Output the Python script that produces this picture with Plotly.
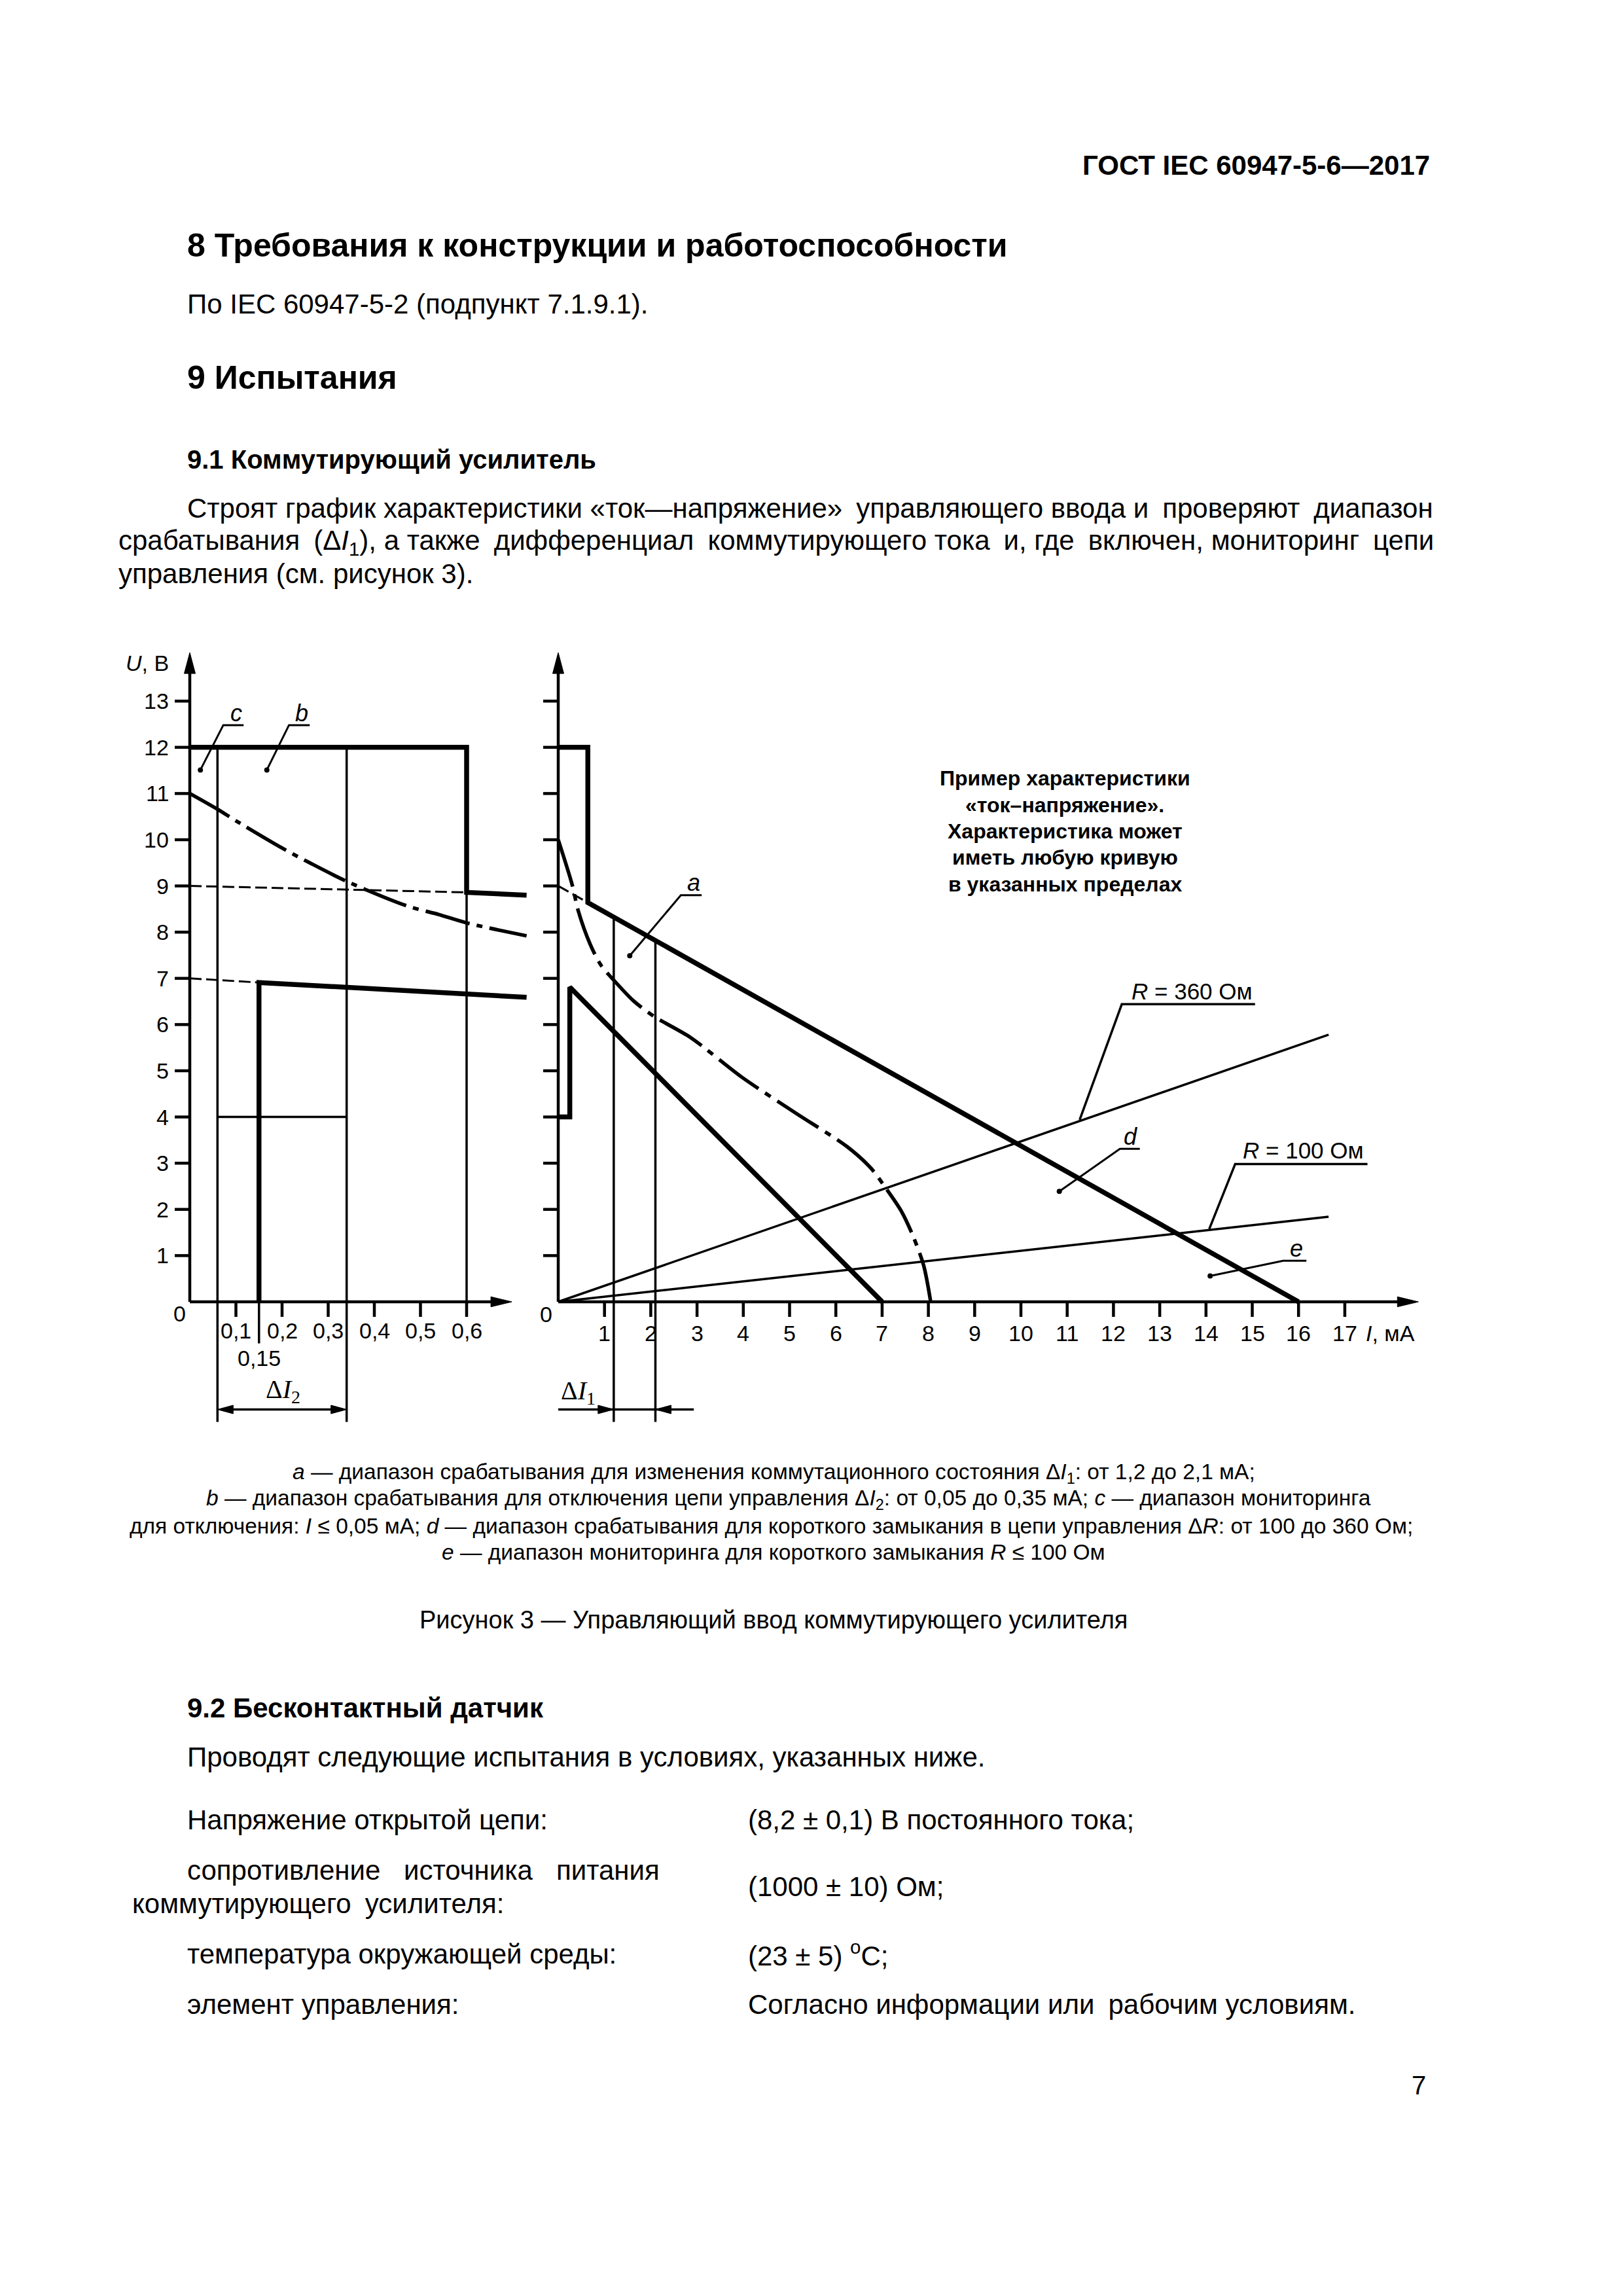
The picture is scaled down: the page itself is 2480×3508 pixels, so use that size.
import numpy as np
import plotly.graph_objects as go

# ======================= chart data =======================
U_TICKS = list(range(1, 14))
LEFT_I_TICKS = [0.1, 0.2, 0.3, 0.4, 0.5, 0.6]
LEFT_I_TICK_LABELS = ["0,1", "0,2", "0,3", "0,4", "0,5", "0,6"]
RIGHT_I_TICKS = list(range(1, 18))
RIGHT_I_TICK_LABELS = [str(v) for v in RIGHT_I_TICKS]

# left panel: I in mA, U in V
left_upper_I = [0.0, 0.60, 0.60, 0.73]
left_upper_U = [12.0, 12.0, 8.86, 8.80]
left_upper_ext_I = [0.0, 0.60]
left_upper_ext_U = [9.0, 8.86]
left_lower_ext_I = [0.0, 0.15]
left_lower_ext_U = [7.0, 6.91]
left_lower_I = [0.15, 0.15, 0.73]
left_lower_U = [0.0, 6.91, 6.59]
left_curve_I = [0.0, 0.06, 0.10, 0.20, 0.26, 0.34, 0.47, 0.54, 0.60, 0.73]
left_curve_U = [11.0, 10.66, 10.41, 9.82, 9.50, 9.10, 8.57, 8.38, 8.20, 7.92]
c_limit_I = 0.06
b_limit_I = 0.34
b_step_I = 0.60
b_level_U = 4.0

# right panel
right_upper_I = [0.0, 0.64, 0.64, 16.0]
right_upper_U = [12.0, 12.0, 8.64, 0.0]
right_upper_ext_I = [0.0, 0.64]
right_upper_ext_U = [9.0, 8.64]
right_lower_I = [0.0, 0.25, 0.25, 7.0]
right_lower_U = [4.0, 4.0, 6.81, 0.0]
right_curve_I = [0.0, 0.30, 0.43, 0.69, 0.92, 1.21, 1.63, 2.08, 2.86, 3.97,
                 5.14, 6.24, 6.76, 7.08, 7.41, 7.67, 7.90, 8.05]
right_curve_U = [10.0, 9.03, 8.47, 7.74, 7.29, 6.95, 6.51, 6.17, 5.72, 4.86,
                 4.08, 3.36, 2.89, 2.46, 1.97, 1.42, 0.78, 0.0]
r360_I = [0.0, 16.65]
r360_U = [0.0, 5.78]
r100_I = [0.0, 16.65]
r100_U = [0.0, 1.84]
dI1_bounds = [1.2, 2.1]

# ======================= page geometry (pixels) =======================
W, H = 2480, 3508
X0L, SXL = 290.0, 705.0     # left panel: px of I=0, px per mA
X0R, SXR = 853.0, 70.7      # right panel
Y0, SY = 1989.0, 70.6       # px of U=0, px per V
LX_RANGE = [-0.30, 0.82]
RX_RANGE = [-1.60, 18.80]
Y_RANGE = [-3.40, 14.40]

FONT = "Liberation Sans"
SERIF = "Liberation Serif"
BLACK = "black"
EN = "\u2002"

THIN, AXIS_W, THICK, DD = 3.5, 4.5, 7.5, 5.5

fig = go.Figure()


def ax_of(panel):
    return ("x", "y") if panel == "L" else ("x2", "y2")


def sx_of(panel):
    return SXL if panel == "L" else SXR


def add_line(xs, ys, panel, width, dash="solid", shape="linear"):
    xa, ya = ax_of(panel)
    fig.add_trace(go.Scatter(x=xs, y=ys, mode="lines", xaxis=xa, yaxis=ya,
                             line=dict(color=BLACK, width=width, dash=dash, shape=shape,
                                       smoothing=0.8),
                             hoverinfo="skip", showlegend=False))


def add_poly(pts, panel):
    xa, ya = ax_of(panel)
    xs = [p[0] for p in pts] + [pts[0][0]]
    ys = [p[1] for p in pts] + [pts[0][1]]
    fig.add_trace(go.Scatter(x=xs, y=ys, mode="lines", fill="toself", fillcolor=BLACK,
                             line=dict(color=BLACK, width=1), xaxis=xa, yaxis=ya,
                             hoverinfo="skip", showlegend=False))


def arrow_head(tx, ty, direction, panel, length_px, half_px):
    sx = sx_of(panel)
    L, hw = length_px, half_px
    if direction == "up":
        pts = [(tx, ty), (tx - hw / sx, ty - L / SY), (tx + hw / sx, ty - L / SY)]
    elif direction == "right":
        pts = [(tx, ty), (tx - L / sx, ty + hw / SY), (tx - L / sx, ty - hw / SY)]
    else:  # left
        pts = [(tx, ty), (tx + L / sx, ty + hw / SY), (tx + L / sx, ty - hw / SY)]
    add_poly(pts, panel)


def add_dot(x, y, panel):
    xa, ya = ax_of(panel)
    fig.add_trace(go.Scatter(x=[x], y=[y], mode="markers", xaxis=xa, yaxis=ya,
                             marker=dict(color=BLACK, size=8), cliponaxis=False,
                             hoverinfo="skip", showlegend=False))


annotations = []


def dtext(text, x, y, panel, size=34, xanchor="center", yanchor="middle", family=FONT,
          style="normal", weight="normal"):
    xa, ya = ax_of(panel)
    annotations.append(dict(text=text, x=x, y=y, xref=xa, yref=ya, showarrow=False,
                            xanchor=xanchor, yanchor=yanchor,
                            font=dict(family=family, size=size, color=BLACK,
                                      style=style, weight=weight)))


def ptext(text, xpx, ypx, size, xanchor="left", family=FONT, weight="normal"):
    annotations.append(dict(text=text, x=xpx / W, y=1 - ypx / H, xref="paper", yref="paper",
                            showarrow=False, xanchor=xanchor, yanchor="middle",
                            font=dict(family=family, size=size, color=BLACK, weight=weight)))


def segments(pairs):
    xs, ys = [], []
    for (x1, y1, x2, y2) in pairs:
        xs += [x1, x2, None]
        ys += [y1, y2, None]
    return xs, ys


# ======================= axes =======================
U_TIP = 14.05
ARROW_L, ARROW_HW = 32, 8.5
for panel, x_tip in (("L", 0.698), ("R", 18.59)):
    sx = sx_of(panel)
    add_line([0, 0], [0, U_TIP - 10 / SY], panel, AXIS_W)
    add_line([0, x_tip - 10 / sx], [0, 0], panel, AXIS_W)
    arrow_head(0, U_TIP, "up", panel, ARROW_L, ARROW_HW)
    arrow_head(x_tip, 0, "right", panel, ARROW_L, 7.7)
    tick_len_x = 23 / sx
    xs, ys = segments([(-tick_len_x, u, 0, u) for u in U_TICKS])
    add_line(xs, ys, panel, AXIS_W)

tick_len_y = 23 / SY
xs, ys = segments([(i, 0, i, -tick_len_y) for i in LEFT_I_TICKS])
add_line(xs, ys, "L", AXIS_W)
xs, ys = segments([(i, 0, i, -tick_len_y) for i in RIGHT_I_TICKS])
add_line(xs, ys, "R", AXIS_W)

for u in U_TICKS:
    dtext(str(u), -30 / SXL, u, "L", xanchor="right")
dtext("<i>U</i>, В", -30 / SXL, 13.83, "L", xanchor="right")
dtext("0", -0.022, -0.25, "L")
dtext("0", -0.26, -0.27, "R")
for i, lab in zip(LEFT_I_TICKS, LEFT_I_TICK_LABELS):
    dtext(lab, i, -0.63, "L")
for i, lab in zip(RIGHT_I_TICKS, RIGHT_I_TICK_LABELS):
    dtext(lab, i, -0.68, "R")
dtext("<i>I</i>, мА", 17.42, -0.68, "R", xanchor="left")

# ======================= left panel =======================
V_BOTTOM = -2.6
xs, ys = segments([(c_limit_I, 12, c_limit_I, V_BOTTOM),
                   (b_limit_I, 12, b_limit_I, V_BOTTOM),
                   (b_step_I, left_upper_U[2], b_step_I, 0),
                   (c_limit_I, b_level_U, b_limit_I, b_level_U),
                   (left_lower_I[0], 0, left_lower_I[0], -0.9)])
add_line(xs, ys, "L", THIN)
add_line(left_upper_ext_I, left_upper_ext_U, "L", THIN - 0.5, dash="18px,7px")
add_line(left_lower_ext_I, left_lower_ext_U, "L", THIN - 0.5, dash="18px,7px")
add_line(left_curve_I, left_curve_U, "L", DD, dash="70px,11px,9px,11px", shape="spline")
add_line(left_upper_I, left_upper_U, "L", THICK)
add_line(left_lower_I, left_lower_U, "L", THICK)
dtext("0,15", left_lower_I[0], -1.22, "L")

V_DIM = -2.33
add_line([c_limit_I + 20 / SXL, b_limit_I - 20 / SXL], [V_DIM, V_DIM], "L", THIN)
arrow_head(c_limit_I, V_DIM, "left", "L", 24, 6.5)
arrow_head(b_limit_I, V_DIM, "right", "L", 24, 6.5)
dtext("Δ<i>I</i><sub>2</sub>", 0.2025, -1.93, "L", size=40, family=SERIF)

for pts, lab, lab_xy in (
        ([(0.023, 11.51), (0.0726, 12.48), (0.1167, 12.48)], "c", (0.10, 12.74)),
        ([(0.167, 11.51), (0.215, 12.48), (0.260, 12.48)], "b", (0.242, 12.74))):
    add_line([p[0] for p in pts], [p[1] for p in pts], "L", THIN - 0.5)
    add_dot(pts[0][0], pts[0][1], "L")
    dtext(lab, lab_xy[0], lab_xy[1], "L", size=36, style="italic")

# ======================= right panel =======================
add_line(r360_I, r360_U, "R", THIN)
add_line(r100_I, r100_U, "R", THIN)
tops = [float(np.interp(i, right_upper_I[2:], right_upper_U[2:])) for i in dI1_bounds]
xs, ys = segments([(i, t, i, V_BOTTOM) for i, t in zip(dI1_bounds, tops)])
add_line(xs, ys, "R", THIN)
add_line(right_upper_ext_I, right_upper_ext_U, "R", THIN - 0.5, dash="18px,7px")
add_line(right_curve_I, right_curve_U, "R", DD, dash="75px,12px,10px,12px", shape="spline")
add_line(right_upper_I, right_upper_U, "R", THICK)
add_line(right_lower_I, right_lower_U, "R", THICK)

add_line([0, 2.93], [V_DIM, V_DIM], "R", THIN)
arrow_head(dI1_bounds[0], V_DIM, "right", "R", 24, 6.5)
arrow_head(dI1_bounds[1], V_DIM, "left", "R", 24, 6.5)
dtext("Δ<i>I</i><sub>1</sub>", 0.43, -1.95, "R", size=40, family=SERIF)

for pts, lab, lab_xy in (
        ([(1.546, 7.49), (2.65, 8.80), (3.10, 8.80)], "a", (2.93, 9.07)),
        ([(10.83, 2.39), (12.14, 3.31), (12.57, 3.31)], "d", (12.37, 3.58)),
        ([(14.09, 0.56), (15.67, 0.89), (16.17, 0.89)], "e", (15.96, 1.16))):
    add_line([p[0] for p in pts], [p[1] for p in pts], "R", THIN - 0.5)
    add_dot(pts[0][0], pts[0][1], "R")
    dtext(lab, lab_xy[0], lab_xy[1], "R", size=36, style="italic")

for pts, lab, lab_xy in (
        ([(11.27, 3.94), (12.18, 6.44), (15.06, 6.44)], "<i>R</i> = 360 Ом", (12.36, 6.72)),
        ([(14.07, 1.575), (14.63, 2.98), (17.49, 2.98)], "<i>R</i> = 100 Ом", (14.77, 3.28))):
    add_line([p[0] for p in pts], [p[1] for p in pts], "R", THIN)
    dtext(lab, lab_xy[0], lab_xy[1], "R", size=35, xanchor="left")

note_lines = ["Пример характеристики", "«ток–напряжение».", "Характеристика может",
              "иметь любую кривую", "в указанных пределах"]
for k, t in enumerate(note_lines):
    ptext(t, 1627, 1189 + 40.5 * k, 32, xanchor="center", weight="bold")

# ======================= page text =======================
ptext("ГОСТ IEC 60947-5-6—2017", 2187, 252, 42, xanchor="right", weight="bold")
ptext("8 Требования к конструкции и работоспособности", 284, 375, 50, weight="bold")
ptext("По IEC 60947-5-2 (подпункт 7.1.9.1).", 284, 465, 42)
ptext("9 Испытания", 284, 577, 50, weight="bold")
ptext("9.1 Коммутирующий усилитель", 284, 702, 40, weight="bold")

para_line1 = ("Строят" + " " + "график" + " " + "характеристики" + " " + "«ток—напряжение»" + EN +
              "управляющего" + " " + "ввода" + " " + "и" + EN + "проверяют" + EN + "диапазон")
para_line2 = ("срабатывания" + EN + "(Δ<i>I</i><sub>1</sub>)," + " " + "а" + " " + "также" + EN +
              "дифференциал" + EN + "коммутирующего" + " " + "тока" + EN + "и," + " " + "где" +
              EN + "включен," + " " + "мониторинг" + EN + "цепи")
ptext(para_line1, 284, 776, 42)
ptext(para_line2, 179, 828, 42)
ptext("управления (см. рисунок 3).", 179, 876, 42)

caption = [
    "<i>a</i> — диапазон срабатывания для изменения коммутационного состояния "
    "Δ<i>I</i><sub>1</sub>: от 1,2 до 2,1 мА;",
    "<i>b</i> — диапазон срабатывания для отключения цепи управления "
    "Δ<i>I</i><sub>2</sub>: от 0,05 до 0,35 мА; <i>c</i> — диапазон мониторинга",
    "для отключения: <i>I</i> ≤ 0,05 мА; <i>d</i> — диапазон срабатывания для короткого "
    "замыкания в цепи управления Δ<i>R</i>: от 100 до 360 Ом;",
    "<i>e</i> — диапазон мониторинга для короткого замыкания <i>R</i> ≤ 100 Ом",
]
caption_cx = [1182, 1205, 1178, 1182]
for k, t in enumerate(caption):
    ptext(t, caption_cx[k], 2251 + 40 * k, 33.5, xanchor="center")

ptext("Рисунок 3 — Управляющий ввод коммутирующего усилителя", 1182, 2475, 38,
      xanchor="center")

ptext("9.2 Бесконтактный датчик", 284, 2609, 42, weight="bold")
ptext("Проводят следующие испытания в условиях, указанных ниже.", 284, 2684, 42)
ptext("Напряжение открытой цепи:", 284, 2780, 42)
ptext("(8,2 ± 0,1) В постоянного тока;", 1141, 2780, 42)
ptext("сопротивление", 284, 2857, 42)
ptext("источника", 715, 2857, 42, xanchor="center")
ptext("питания", 1010, 2857, 42, xanchor="right")
ptext("коммутирующего" + EN + "усилителя:", 200, 2908, 42)
ptext("(1000 ± 10) Ом;", 1141, 2882, 42)
ptext("температура окружающей среды:", 284, 2985, 42)
ptext("(23 ± 5) <sup>o</sup>C;", 1141, 2985, 42)
ptext("элемент управления:", 284, 3062, 42)
ptext("Согласно информации или" + EN + "рабочим условиям.", 1141, 3062, 42)
ptext("7", 2181, 3186, 40, xanchor="right")


# ======================= layout =======================
def xdom(x0, sx, rng):
    return [(x0 + rng[0] * sx) / W, (x0 + rng[1] * sx) / W]


ydom = [1 - (Y0 - Y_RANGE[0] * SY) / H, 1 - (Y0 - Y_RANGE[1] * SY) / H]

fig.update_layout(
    width=W, height=H, margin=dict(l=0, r=0, t=0, b=0),
    paper_bgcolor="white", plot_bgcolor="rgba(0,0,0,0)", showlegend=False,
    xaxis=dict(domain=xdom(X0L, SXL, LX_RANGE), range=LX_RANGE, visible=False, anchor="y"),
    yaxis=dict(domain=ydom, range=Y_RANGE, visible=False, anchor="x"),
    xaxis2=dict(domain=xdom(X0R, SXR, RX_RANGE), range=RX_RANGE, visible=False, anchor="y2"),
    yaxis2=dict(domain=ydom, range=Y_RANGE, visible=False, anchor="x2"),
    annotations=annotations,
    font=dict(family=FONT, color=BLACK),
)

fig.write_html("out.html")
